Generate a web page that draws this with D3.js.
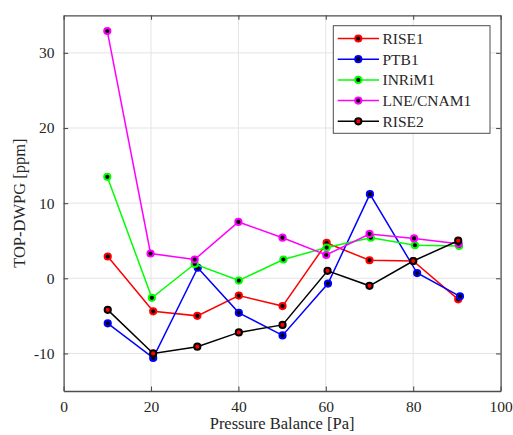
<!DOCTYPE html>
<html lang="en">
<head>
    <meta charset="UTF-8">
    <title>TOP-DWPG</title>
    <script src="https://d3js.org/d3.v7.min.js"></script>
    <style>
        body { margin: 0; background: #fff; }
        text { font-family: "Liberation Serif", "DejaVu Serif", serif; fill: #262626; }
    </style>
</head>
<body>

<svg width="513" height="435"></svg>
<script>

    // values
    var seriesNames = ["RISE1", "PTB1", "INRiM1", "LNE/CNAM1", "RISE2"];
    var seriesColors = ["#ff0000", "#0000ff", "#00ff00", "#ff00ff", "#000000"];
    var markerFills = ["#000000", "#000000", "#000000", "#000000", "#ff0000"];

    var rise1X = [10.1, 20.5, 30.6, 40.1, 50.1, 60.2, 70.0, 80.0, 90.3];
    var rise1Y = [2.9, -4.4, -5.0, -2.3, -3.7, 4.7, 2.4, 2.3, -2.8];

    var ptb1X = [10.1, 20.5, 30.7, 40.1, 50.1, 60.5, 70.1, 80.9, 90.7];
    var ptb1Y = [-6.0, -10.6, 1.4, -4.6, -7.6, -0.7, 11.2, 0.7, -2.4];

    var inrimX = [10.0, 20.2, 30.0, 40.1, 50.3, 60.2, 70.3, 80.4, 90.5];
    var inrimY = [13.5, -2.6, 1.9, -0.3, 2.5, 4.1, 5.4, 4.4, 4.3];

    var lneX = [10.0, 19.9, 30.0, 40.0, 50.1, 60.1, 70.0, 80.2, 90.4];
    var lneY = [32.9, 3.3, 2.5, 7.5, 5.4, 3.1, 5.9, 5.3, 4.6];

    var rise2X = [10.1, 20.5, 30.6, 40.1, 50.1, 60.4, 70.0, 80.0, 90.3];
    var rise2Y = [-4.2, -10.0, -9.1, -7.2, -6.2, 1.0, -1.0, 2.3, 5.0];

    var xTicks = [0, 20, 40, 60, 80, 100];
    var yTicks = [-10, 0, 10, 20, 30];

    var allX = [rise1X, ptb1X, inrimX, lneX, rise2X];
    var allY = [rise1Y, ptb1Y, inrimY, lneY, rise2Y];

    var series = seriesNames.map(function (name, i) {
        return {
            name: name,
            color: seriesColors[i],
            fill: markerFills[i],
            points: allX[i].map(function (v, j) { return [v, allY[i][j]]; })
        };
    });

    var svg = d3.select("svg"),
        padL = 63.6, padR = 500.6, padT = 15.3, padB = 391;

    var x = d3.scaleLinear().domain([0, 100]).range([padL, padR]);
    var y = d3.scaleLinear().domain([-15, 35]).range([padB, padT]);

    var axisColor = "#4d4d4d";
    var plain = function (d) { return String(d); };

    // grid
    svg.append("g").selectAll("line")
        .data(xTicks.slice(1, -1))
        .enter().append("line")
        .attr("x1", function (d) { return x(d); })
        .attr("x2", function (d) { return x(d); })
        .attr("y1", padT).attr("y2", padB)
        .attr("stroke", "#e3e3e3").attr("stroke-width", 1);

    svg.append("g").selectAll("line")
        .data(yTicks)
        .enter().append("line")
        .attr("y1", function (d) { return y(d); })
        .attr("y2", function (d) { return y(d); })
        .attr("x1", padL).attr("x2", padR)
        .attr("stroke", "#e3e3e3").attr("stroke-width", 1);

    // axes (ticks inward on all four sides)
    var tk = 4.5;
    var xBottom = svg.append("g")
        .attr("transform", "translate(0," + padB + ")")
        .call(d3.axisBottom(x).tickValues(xTicks).tickFormat(plain).tickSizeInner(-tk).tickSizeOuter(0).tickPadding(10));
    var xTop = svg.append("g")
        .attr("transform", "translate(0," + padT + ")")
        .call(d3.axisTop(x).tickValues(xTicks).tickSizeInner(-tk).tickSizeOuter(0).tickFormat(""));
    var yLeft = svg.append("g")
        .attr("transform", "translate(" + padL + ",0)")
        .call(d3.axisLeft(y).tickValues(yTicks).tickFormat(plain).tickSizeInner(-tk).tickSizeOuter(0).tickPadding(9));
    var yRight = svg.append("g")
        .attr("transform", "translate(" + padR + ",0)")
        .call(d3.axisRight(y).tickValues(yTicks).tickSizeInner(-tk).tickSizeOuter(0).tickFormat(""));

    [xBottom, xTop, yLeft, yRight].forEach(function (a) {
        a.attr("font-family", null);
        a.select(".domain").attr("stroke", axisColor).attr("stroke-width", 1.3);
        a.selectAll(".tick line").attr("stroke", axisColor).attr("stroke-width", 1.1);
        a.selectAll(".tick text")
            .style("font-family", "'Liberation Serif', serif")
            .style("font-size", "15.5px")
            .attr("fill", "#262626");
    });

    // axis labels
    svg.append("text")
        .attr("x", (padL + padR) / 2)
        .attr("y", 429)
        .attr("text-anchor", "middle")
        .style("font-size", "16.5px")
        .text("Pressure Balance [Pa]");

    svg.append("text")
        .attr("transform", "translate(25," + y(10) + ") rotate(-90)")
        .attr("text-anchor", "middle")
        .style("font-size", "16.5px")
        .text("TOP-DWPG [ppm]");

    // lines and markers
    var line = d3.line()
        .x(function (d) { return x(d[0]); })
        .y(function (d) { return y(d[1]); });

    var sg = svg.append("g").selectAll("g")
        .data(series)
        .enter().append("g");

    sg.append("path")
        .attr("d", function (d) { return line(d.points); })
        .attr("fill", "none")
        .attr("stroke", function (d) { return d.color; })
        .attr("stroke-width", 1.5);

    sg.each(function (s) {
        d3.select(this).selectAll("circle")
            .data(s.points)
            .enter().append("circle")
            .attr("cx", function (d) { return x(d[0]); })
            .attr("cy", function (d) { return y(d[1]); })
            .attr("r", 3.1)
            .attr("fill", s.fill)
            .attr("stroke", s.color)
            .attr("stroke-width", 2);
    });

    // legend
    var lg = svg.append("g");
    lg.append("rect")
        .attr("x", 333.3).attr("y", 25.7)
        .attr("width", 156.7).attr("height", 107.6)
        .attr("fill", "#fff")
        .attr("stroke", axisColor).attr("stroke-width", 1);

    var entry = lg.selectAll(".entry")
        .data(series)
        .enter().append("g")
        .attr("transform", function (d, i) {
            return "translate(0," + (38.5 + i * 20.7) + ")";
        });

    entry.append("line")
        .attr("x1", 337.7).attr("x2", 379)
        .attr("y1", 0).attr("y2", 0)
        .attr("stroke", function (d) { return d.color; })
        .attr("stroke-width", 1.5);

    entry.append("circle")
        .attr("cx", 358.3).attr("cy", 0).attr("r", 3.1)
        .attr("fill", function (d) { return d.fill; })
        .attr("stroke", function (d) { return d.color; })
        .attr("stroke-width", 2);

    entry.append("text")
        .attr("x", 382.5).attr("y", 5.5)
        .style("font-size", "15.5px")
        .text(function (d) { return d.name; });

</script>

</body>
</html>
